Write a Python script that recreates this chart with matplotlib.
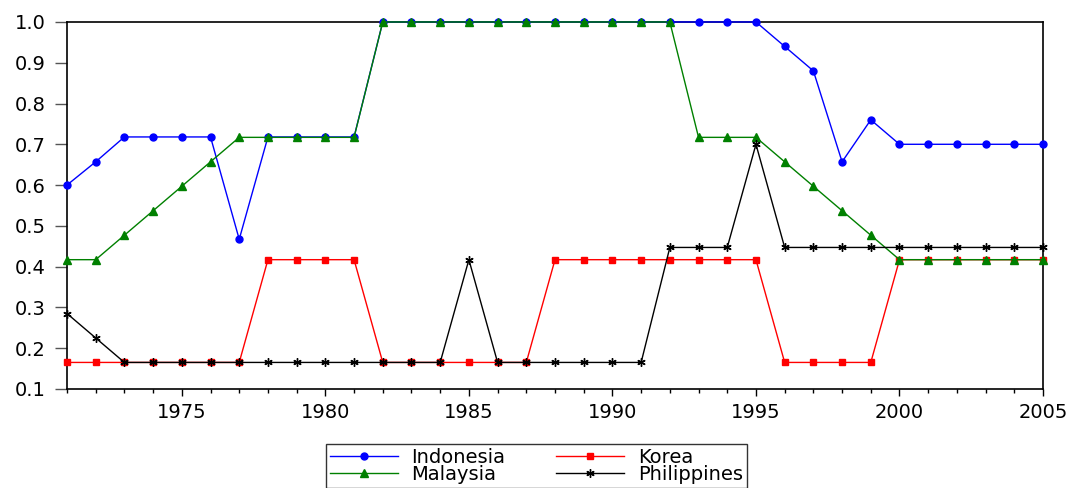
import matplotlib
matplotlib.use('Agg')
import matplotlib.pyplot as plt
from matplotlib.ticker import MultipleLocator, FormatStrFormatter

plt.rcParams['font.family'] = ['DejaVu Sans']

years = list(range(1971, 2006))

indonesia = [0.60, 0.657, 0.718, 0.718, 0.718, 0.718, 0.467, 0.718, 0.718, 0.718,
             0.718, 1.0, 1.0, 1.0, 1.0, 1.0, 1.0, 1.0, 1.0, 1.0,
             1.0, 1.0, 1.0, 1.0, 1.0, 0.94, 0.88, 0.657, 0.76, 0.70,
             0.70, 0.70, 0.70, 0.70, 0.70]
korea = [0.165, 0.165, 0.165, 0.165, 0.165, 0.165, 0.165, 0.417, 0.417, 0.417,
         0.417, 0.165, 0.165, 0.165, 0.165, 0.165, 0.165, 0.417, 0.417, 0.417,
         0.417, 0.417, 0.417, 0.417, 0.417, 0.165, 0.165, 0.165, 0.165, 0.417,
         0.417, 0.417, 0.417, 0.417, 0.417]
malaysia = [0.417, 0.417, 0.477, 0.537, 0.597, 0.657, 0.717, 0.717, 0.717, 0.717,
            0.717, 1.0, 1.0, 1.0, 1.0, 1.0, 1.0, 1.0, 1.0, 1.0,
            1.0, 1.0, 0.717, 0.717, 0.717, 0.657, 0.597, 0.537, 0.477, 0.417,
            0.417, 0.417, 0.417, 0.417, 0.417]
philippines = [0.285, 0.225, 0.165, 0.165, 0.165, 0.165, 0.165, 0.165, 0.165, 0.165,
               0.165, 0.165, 0.165, 0.165, 0.417, 0.165, 0.165, 0.165, 0.165, 0.165,
               0.165, 0.447, 0.447, 0.447, 0.70, 0.447, 0.447, 0.447, 0.447, 0.447,
               0.447, 0.447, 0.447, 0.447, 0.447]

fig = plt.figure(figsize=(10.7, 4.88), dpi=100)
ax = fig.add_axes([0.0626, 0.203, 0.9122, 0.752])

l1, = ax.plot(years, indonesia, color='blue', lw=1, marker='o', ms=5, label='Indonesia', clip_on=False, zorder=3)
l2, = ax.plot(years, korea, color='red', lw=1, marker='s', ms=5, label='Korea', clip_on=False, zorder=3)
l3, = ax.plot(years, malaysia, color='green', lw=1, marker='^', ms=6, label='Malaysia', clip_on=False, zorder=4)
l4, = ax.plot(years, philippines, color='black', lw=1, marker=(6, 2, 0), ms=6, mew=1,
              label='Philippines', clip_on=False, zorder=5)

ax.set_xlim(1971, 2005)
ax.set_ylim(0.1, 1.0)
ax.xaxis.set_major_locator(MultipleLocator(5))
ax.xaxis.set_minor_locator(MultipleLocator(1))
ax.yaxis.set_major_locator(MultipleLocator(0.1))
ax.yaxis.set_major_formatter(FormatStrFormatter('%.1f'))
ax.tick_params(labelsize=14, direction='out')
ax.tick_params(axis='x', which='major', length=5, width=1, pad=5)
ax.tick_params(axis='x', which='minor', length=3, width=1)
ax.tick_params(axis='y', length=8.5, width=1, color='#555555', pad=7)
for s in ax.spines.values():
    s.set_linewidth(1.2)

# row-wise order like the original: Indonesia, Korea / Malaysia, Philippines
leg = fig.legend([l1, l3, l2, l4], ['Indonesia', 'Malaysia', 'Korea', 'Philippines'], ncol=2,
                 loc='upper left', bbox_to_anchor=(326 / 1070, 1 - 444 / 488), fontsize=14,
                 frameon=True, fancybox=False, edgecolor='black', handlelength=3.5,
                 borderpad=0.2, borderaxespad=0, labelspacing=-0.1, columnspacing=2.6,
                 handletextpad=0.7)
leg.get_frame().set_linewidth(1)

fig.savefig('out.png', dpi=100)
